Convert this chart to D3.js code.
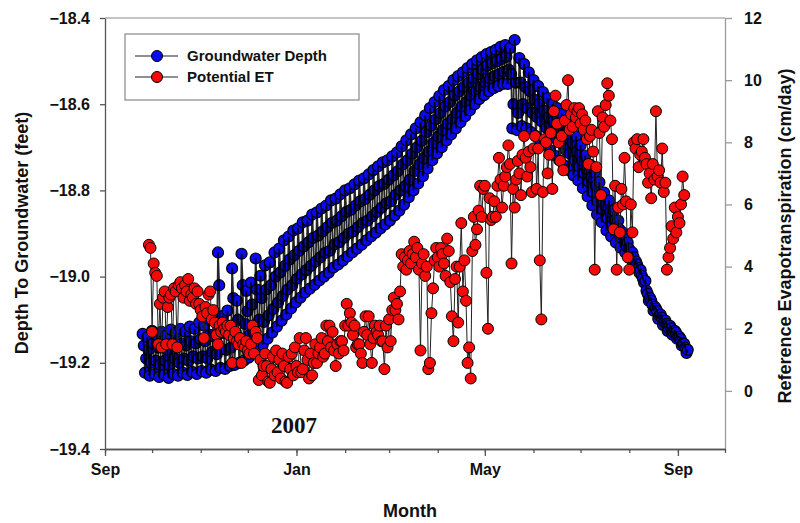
<!DOCTYPE html>
<html><head><meta charset="utf-8">
<script src="https://cdn.jsdelivr.net/npm/d3@7"></script>
<style>body{margin:0;background:#fff}svg{display:block}</style>
</head><body>
<svg id="chart" width="800" height="523"></svg>
<script>
// ---------------- data ----------------
const xDomain = ["2006-09-01", "2007-10-01"];
const majorTickDates = ["2006-09-01", "2007-01-01", "2007-05-01", "2007-09-01"];
const monthTickLabels = ["Sep", "Jan", "May", "Sep"];
const depthTicks = [-19.4, -19.2, -19.0, -18.8, -18.6, -18.4];
const etTicks = [0, 2, 4, 6, 8, 10, 12];
const etAxisMin = -1.87;
const seriesNames = ["Groundwater Depth", "Potential ET"];
const yearLabel = "2007";

// groundwater depth (feet): four readings per 3-day block from gwStart
// (block high, upper reading, block low, lower reading)
const gwStart = "2006-09-25";
const gwStepDays = 3;
const gwHigh = [
-19.133,-19.140,-19.126,-19.135,-19.128,-19.137,-19.123,-19.130,-19.121,-19.128,
-19.116,-19.121,-19.107,-19.114,-19.098,-19.102,-18.944,-19.091,-19.079,-18.981,
-19.056,-18.947,-19.033,-19.014,-18.958,-18.998,-18.974,-18.967,-18.944,-18.935,
-18.916,-18.907,-18.893,-18.888,-18.874,-18.870,-18.856,-18.851,-18.842,-18.835,
-18.823,-18.819,-18.809,-18.800,-18.795,-18.786,-18.777,-18.772,-18.763,-18.753,
-18.744,-18.735,-18.730,-18.721,-18.712,-18.698,-18.684,-18.670,-18.656,-18.642,
-18.626,-18.609,-18.595,-18.581,-18.567,-18.558,-18.544,-18.535,-18.526,-18.516,
-18.507,-18.498,-18.491,-18.484,-18.479,-18.474,-18.467,-18.463,-18.470,-18.451,
-18.493,-18.507,-18.526,-18.544,-18.558,-18.572,-18.586,-18.600,-18.609,-18.623,
-18.642,-18.656,-18.674,-18.695,-18.719,-18.740,-18.758,-18.781,-18.805,-18.823,
-18.847,-18.870,-18.898,-18.921,-18.944,-18.972,-18.998,-19.033,-19.056,-19.074,
-19.088,-19.102,-19.114,-19.126,-19.140,-19.156];
const gwUpper = [
-19.160,-19.170,-19.155,-19.165,-19.160,-19.170,-19.155,-19.165,-19.155,-19.160,
-19.150,-19.155,-19.145,-19.150,-19.135,-19.140,-19.020,-19.130,-19.120,-19.050,
-19.100,-19.020,-19.080,-19.065,-19.030,-19.050,-19.030,-19.020,-19.000,-18.990,
-18.975,-18.960,-18.950,-18.940,-18.930,-18.920,-18.910,-18.905,-18.895,-18.885,
-18.875,-18.870,-18.860,-18.850,-18.845,-18.835,-18.825,-18.820,-18.810,-18.800,
-18.790,-18.785,-18.775,-18.765,-18.755,-18.740,-18.730,-18.715,-18.700,-18.685,
-18.665,-18.650,-18.635,-18.620,-18.605,-18.595,-18.580,-18.570,-18.560,-18.550,
-18.540,-18.530,-18.520,-18.510,-18.505,-18.500,-18.495,-18.490,-18.530,-18.550,
-18.550,-18.560,-18.570,-18.590,-18.600,-18.615,-18.630,-18.640,-18.650,-18.665,
-18.680,-18.690,-18.710,-18.730,-18.750,-18.770,-18.790,-18.810,-18.835,-18.850,
-18.870,-18.890,-18.910,-18.935,-18.955,-18.980,-19.005,-19.040,-19.065,-19.080,
-19.095,-19.110,-19.120,-19.130,-19.145,-19.165];
const gwLow = [
-19.223,-19.230,-19.226,-19.233,-19.228,-19.235,-19.226,-19.230,-19.223,-19.228,
-19.221,-19.226,-19.219,-19.223,-19.216,-19.219,-19.212,-19.214,-19.207,-19.205,
-19.200,-19.195,-19.188,-19.177,-19.167,-19.158,-19.144,-19.130,-19.116,-19.102,
-19.088,-19.074,-19.060,-19.049,-19.037,-19.028,-19.019,-19.009,-19.000,-18.991,
-18.979,-18.972,-18.963,-18.953,-18.944,-18.935,-18.926,-18.916,-18.907,-18.898,
-18.888,-18.879,-18.870,-18.858,-18.847,-18.833,-18.816,-18.800,-18.784,-18.767,
-18.749,-18.730,-18.714,-18.700,-18.684,-18.670,-18.656,-18.642,-18.628,-18.614,
-18.600,-18.588,-18.579,-18.570,-18.563,-18.558,-18.553,-18.553,-18.656,-18.660,
-18.651,-18.656,-18.665,-18.674,-18.684,-18.695,-18.707,-18.719,-18.730,-18.742,
-18.753,-18.765,-18.777,-18.795,-18.814,-18.835,-18.856,-18.874,-18.893,-18.907,
-18.921,-18.933,-18.944,-18.958,-18.972,-18.991,-19.014,-19.056,-19.079,-19.098,
-19.112,-19.126,-19.135,-19.144,-19.160,-19.177];
const gwLower = [
-19.190,-19.200,-19.195,-19.205,-19.195,-19.205,-19.190,-19.200,-19.190,-19.195,
-19.185,-19.190,-19.185,-19.190,-19.175,-19.180,-19.130,-19.170,-19.165,-19.130,
-19.150,-19.110,-19.135,-19.120,-19.100,-19.105,-19.090,-19.075,-19.060,-19.045,
-19.030,-19.020,-19.005,-18.995,-18.985,-18.975,-18.965,-18.955,-18.945,-18.940,
-18.925,-18.920,-18.910,-18.900,-18.895,-18.885,-18.875,-18.870,-18.860,-18.850,
-18.840,-18.830,-18.825,-18.810,-18.800,-18.790,-18.775,-18.755,-18.740,-18.725,
-18.710,-18.690,-18.675,-18.660,-18.645,-18.635,-18.620,-18.605,-18.595,-18.580,
-18.570,-18.560,-18.550,-18.540,-18.535,-18.530,-18.525,-18.520,-18.600,-18.620,
-18.600,-18.610,-18.620,-18.630,-18.640,-18.655,-18.670,-18.680,-18.690,-18.705,
-18.715,-18.730,-18.745,-18.760,-18.780,-18.805,-18.825,-18.845,-18.865,-18.880,
-18.895,-18.910,-18.930,-18.945,-18.965,-18.985,-19.010,-19.050,-19.070,-19.090,
-19.105,-19.120,-19.130,-19.140,-19.155,-19.170];

// potential ET (cm/day): one value per day from etStart
const etStart = "2006-09-29";
const etValues = [
4.7,4.6,1.9,4.1,3.8,3.7,1.5,2.8,1.4,3.0,
3.2,1.5,2.7,3.0,3.1,1.5,3.3,3.2,1.4,3.4,
3.5,3.3,3.0,3.4,3.2,3.6,2.9,3.1,3.0,3.3,
2.8,3.2,2.8,2.6,2.4,1.7,2.7,2.5,3.1,3.2,
2.3,2.6,2.2,1.8,1.5,2.1,1.9,2.2,2.0,1.9,
2.1,1.8,2.1,0.9,1.7,1.9,1.6,1.5,1.7,0.9,
1.5,1.4,1.6,1.3,1.2,1.5,2.1,1.2,1.9,1.7,
0.35,1.0,0.5,0.8,1.2,0.8,0.3,0.26,0.7,1.1,
0.5,1.3,0.6,1.0,0.4,1.2,0.8,0.3,0.26,1.1,
0.7,1.2,0.5,1.4,0.8,0.6,1.7,0.6,0.7,1.3,
1.7,1.0,0.4,1.2,0.5,0.9,1.5,0.9,1.2,1.4,
1.7,1.1,1.2,2.1,1.6,2.1,1.4,1.9,1.3,0.8,
1.5,1.2,1.6,1.6,1.3,2.1,2.8,2.1,2.5,2.2,
1.8,2.1,1.4,1.5,1.5,1.2,0.9,1.9,2.4,1.8,
2.4,1.5,0.9,1.7,2.1,1.9,1.8,2.1,1.6,1.6,
0.7,2.1,1.4,2.3,1.6,2.6,3.0,2.6,2.8,2.3,
3.2,4.4,4.0,4.3,3.9,4.2,4.5,4.1,4.4,4.8,
4.3,4.6,3.9,1.3,4.1,4.4,3.7,4.0,0.7,0.9,
2.5,3.3,4.2,4.6,4.3,4.0,4.6,4.4,4.1,3.7,
4.9,4.5,3.5,2.4,1.6,3.6,4.0,2.2,4.0,5.4,
3.2,4.2,2.9,0.9,1.4,0.4,4.5,5.6,4.7,5.2,
5.8,6.6,5.6,6.5,6.6,3.8,2.0,6.2,5.5,5.6,
6.1,5.6,6.6,7.5,6.8,5.9,6.6,6.9,7.2,7.9,
7.3,4.1,6.5,5.9,6.8,7.4,7.0,6.3,7.6,8.2,
7.5,6.9,7.7,7.2,6.4,7.8,8.2,6.5,7.8,4.2,
2.3,6.4,8.1,8.0,7.0,7.6,8.3,6.5,9.0,9.5,
8.6,8.0,7.4,8.2,7.1,8.7,9.2,10.0,8.4,8.9,
8.5,9.1,8.8,9.0,9.1,8.6,8.9,8.4,8.7,8.1,
7.3,8.2,8.4,7.7,3.9,7.2,9.0,8.3,6.3,8.8,
8.5,9.2,9.9,9.5,8.7,8.1,5.2,6.6,3.9,5.9,
5.1,6.5,6.0,7.5,6.1,4.3,3.9,6.0,5.1,8.0,
7.8,8.1,7.2,7.6,7.7,8.1,7.5,7.3,6.7,7.0,
6.2,7.3,6.8,9.0,6.9,7.1,6.7,7.8,6.4,6.7,
3.9,4.3,4.6,5.3,4.9,5.9,5.1,5.6,5.4,6.0,
6.9,6.3];

// ---------------- chart ----------------
const parse = d3.utcParse("%Y-%m-%d");
const svg = d3.select("#chart");
const P = {left: 105, right: 725, top: 18, bottom: 449};
const FONT = "Arial, 'Liberation Sans', sans-serif";

const x = d3.scaleUtc().domain(xDomain.map(parse)).range([P.left, P.right]);
const yL = d3.scaleLinear().domain([depthTicks[0], depthTicks[depthTicks.length - 1]]).range([P.bottom, P.top]);
const yR = d3.scaleLinear().domain([etAxisMin, etTicks[etTicks.length - 1]]).range([P.bottom, P.top]);

const gwPts = [];
gwHigh.forEach((v, i) => {
  const d = d3.utcDay.offset(parse(gwStart), i * gwStepDays);
  gwPts.push([d, v]);
  gwPts.push([d3.utcHour.offset(d, 18), gwUpper[i]]);
  gwPts.push([d3.utcHour.offset(d, 36), gwLow[i]]);
  gwPts.push([d3.utcHour.offset(d, 54), gwLower[i]]);
});
const etPts = etValues.map((v, i) => [d3.utcDay.offset(parse(etStart), i), v]);

// top frame line
svg.append("line").attr("x1", P.left).attr("x2", P.right).attr("y1", P.top).attr("y2", P.top)
  .attr("stroke", "#8a8a8a").attr("stroke-width", 1);

// groundwater series (dense logger record: connecting line lies over the symbols)
const gwLine = d3.line().x(d => x(d[0])).y(d => yL(d[1]));
svg.append("g").selectAll("circle").data(gwPts).join("circle")
  .attr("cx", d => x(d[0])).attr("cy", d => yL(d[1])).attr("r", 5.5)
  .attr("fill", "#0a0af0").attr("stroke", "#000").attr("stroke-width", 1.2);
svg.append("path").attr("d", gwLine(gwPts)).attr("fill", "none").attr("stroke", "#000")
  .attr("stroke-width", 1.8).attr("stroke-opacity", 0.85);

// ET series
const etLine = d3.line().x(d => x(d[0])).y(d => yR(d[1]));
svg.append("path").attr("d", etLine(etPts)).attr("fill", "none").attr("stroke", "#222").attr("stroke-width", 1);
svg.append("g").selectAll("circle").data(etPts).join("circle")
  .attr("cx", d => x(d[0])).attr("cy", d => yR(d[1])).attr("r", 5.5)
  .attr("fill", "#f50a0a").attr("stroke", "#000").attr("stroke-width", 1);

// axes
function styleAxis(g, lineColor) {
  g.selectAll("path.domain").attr("stroke", lineColor).attr("stroke-width", 1.3);
  g.selectAll(".tick line").attr("stroke", lineColor).attr("stroke-width", 1.3);
  g.selectAll("text").attr("font-family", FONT).attr("font-weight", "bold").attr("font-size", 16).attr("fill", "#111");
}
const axL = svg.append("g").attr("transform", `translate(${P.left},0)`)
  .call(d3.axisLeft(yL).tickValues(depthTicks).tickFormat(d3.format(".1f")).tickSize(5).tickSizeOuter(0).tickPadding(10));
styleAxis(axL, "#555");
const axR = svg.append("g").attr("transform", `translate(${P.right},0)`)
  .call(d3.axisRight(yR).tickValues(etTicks).tickFormat(d3.format("d")).tickSize(7).tickSizeOuter(0).tickPadding(12));
styleAxis(axR, "#9a9a9a");
const axBminor = svg.append("g").attr("transform", `translate(0,${P.bottom})`)
  .call(d3.axisBottom(x).ticks(d3.utcMonth.every(1)).tickFormat("").tickSize(4).tickSizeOuter(0));
styleAxis(axBminor, "#555");
const axB = svg.append("g").attr("transform", `translate(0,${P.bottom})`)
  .call(d3.axisBottom(x).tickValues(majorTickDates.map(parse)).tickFormat((d, i) => monthTickLabels[i]).tickSize(7).tickSizeOuter(0).tickPadding(8));
styleAxis(axB, "#555");

// axis titles
const title = (txt, xx, yy, rot) => svg.append("text").text(txt)
  .attr("transform", `translate(${xx},${yy}) rotate(${rot})`)
  .attr("text-anchor", "middle").attr("font-family", FONT).attr("font-weight", "bold")
  .attr("font-size", 18).attr("fill", "#111");
title("Depth To Groundwater (feet)", 28, 233, -90);
title("Reference Evapotranspiration (cm/day)", 791, 236, -90);
title("Month", 410, 517, 0);

// year label
svg.append("text").text(yearLabel).attr("x", 294).attr("y", 433).attr("text-anchor", "middle")
  .attr("font-family", "'Times New Roman', 'Liberation Serif', serif").attr("font-weight", "bold")
  .attr("font-size", 23).attr("fill", "#111");

// legend
const lg = svg.append("g");
lg.append("rect").attr("x", 125).attr("y", 34).attr("width", 234).attr("height", 66)
  .attr("fill", "#fff").attr("stroke", "#888").attr("stroke-width", 1.2);
const legendColors = ["#0a0af0", "#f50a0a"];
seriesNames.forEach((name, i) => {
  const yy = 56 + i * 21;
  lg.append("line").attr("x1", 135).attr("x2", 178).attr("y1", yy).attr("y2", yy).attr("stroke", "#222").attr("stroke-width", 1.2);
  lg.append("circle").attr("cx", 157).attr("cy", yy).attr("r", 5.5).attr("fill", legendColors[i]).attr("stroke", "#000");
  lg.append("text").text(name).attr("x", 187).attr("y", yy).attr("dy", "0.36em")
    .attr("font-family", FONT).attr("font-weight", "bold").attr("font-size", 15).attr("fill", "#111");
});
</script>
</body></html>
